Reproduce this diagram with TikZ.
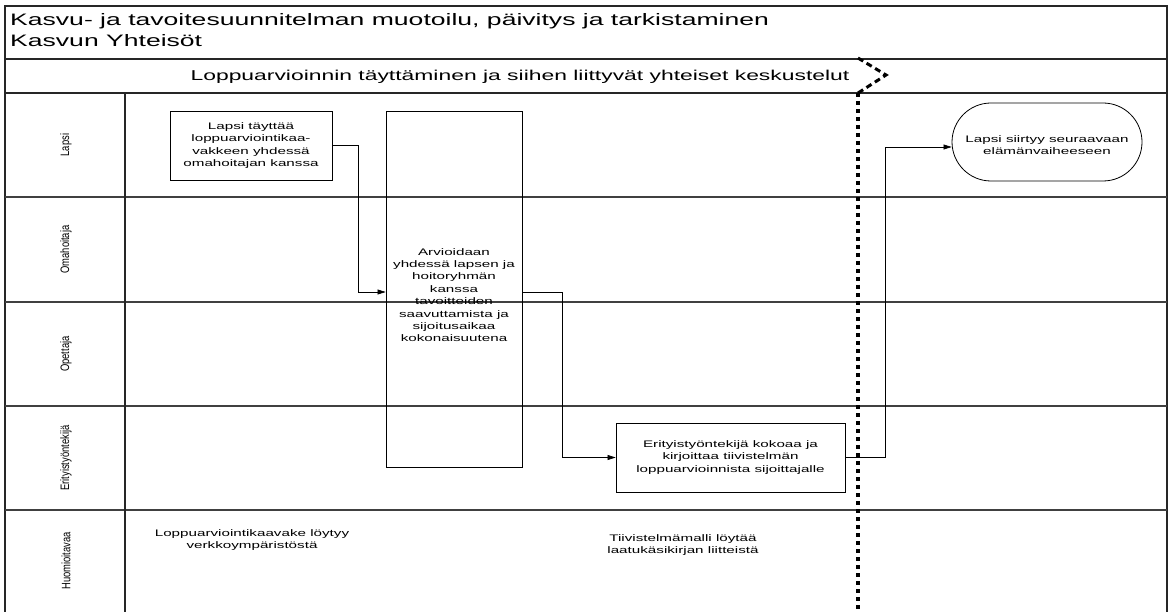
\documentclass[tikz,border=0pt]{standalone}
\usepackage{fontspec}
\setmainfont{Liberation Sans}
\newfontfamily\wide[FakeStretch=1.6]{Liberation Sans}
\usetikzlibrary{arrows.meta}
\begin{document}
\begin{tikzpicture}[x=1pt,y=-1pt,
  frame/.style={line width=1.4pt, black!85},
  lane/.style={line width=1.2pt, black!75},
  box/.style={draw, line width=0.8pt, align=center, inner sep=0pt,
    font=\wide\fontsize{9.5}{12.4}\selectfont},
  note/.style={align=center, inner sep=0pt, font=\wide\fontsize{9.5}{12.8}\selectfont},
  conn/.style={line width=0.7pt, -{Triangle[length=8pt,width=5pt]}},
  lbl/.style={rotate=90, inner sep=0pt, font=\fontsize{9.4}{11}\selectfont},
  dots/.style={line width=3.5pt, dash pattern=on 4pt off 4pt},
  dashes/.style={line width=3pt, dash pattern=on 6pt off 4pt}
]
\useasboundingbox (0,0) rectangle (1169,612);
\fill[white] (0,0) rectangle (1169,612);

% frame and bands
\draw[frame] (5,612) -- (5,6) -- (1167,6) -- (1167,612);
\draw[frame] (5,59) -- (1167,59);
\draw[frame] (5,93) -- (1167,93);
\foreach \yy in {197,302,406,510} \draw[lane] (5,\yy) -- (1167,\yy);
\draw[frame] (125,93) -- (125,612);

% titles
\node[anchor=base west, inner sep=0pt, font=\wide\fontsize{16.6}{18}\selectfont] (t1) at (10,26) {Kasvu- ja tavoitesuunnitelman muotoilu, päivitys ja tarkistaminen};
\node[anchor=base west, inner sep=0pt, font=\wide\fontsize{16.6}{18}\selectfont] (t2) at (10,47) {Kasvun Yhteisöt};
\node[inner sep=0pt, font=\wide\fontsize{14.3}{16}\selectfont] (hdr) at (520,77) {Loppuarvioinnin täyttäminen ja siihen liittyvät yhteiset keskustelut};

% lane labels
\node[lbl] (l1) at (66,145) {\scalebox{1}[1.3]{Lapsi}};
\node[lbl] (l2) at (66,249.5) {\scalebox{1}[1.3]{Omahoitaja}};
\node[lbl] (l3) at (66,354) {\scalebox{1}[1.3]{Opettaja}};
\node[lbl] (l4) at (66,458) {\scalebox{1}[1.3]{Erityistyöntekijä}};
\node[lbl] (l5) at (66,561) {\scalebox{1}[1.3]{Huomioitavaa}};

% boxes
\node[box, minimum width=162pt, minimum height=69pt] (b1) at (251,145.5)
  {Lapsi täyttää\\loppuarviointikaa-\\vakkeen yhdessä\\omahoitajan kanssa};
\node[box, minimum width=136pt, minimum height=356pt] (big) at (454,289)
  {\raisebox{-7pt}[\height][\depth]{\begin{tabular}{@{}c@{}}Arvioidaan\\yhdessä lapsen ja\\hoitoryhmän\\kanssa\\tavoitteiden\\saavuttamista ja\\sijoitusaikaa\\kokonaisuutena\end{tabular}}};
\node[box, minimum width=229pt, minimum height=69pt] (b3) at (730.5,457.5)
  {Erityistyöntekijä kokoaa ja\\kirjoittaa tiivistelmän\\loppuarvioinnista sijoittajalle};
\node[box, minimum width=190pt, minimum height=78pt, rounded corners=39pt] (ell) at (1047,142)
  {\raisebox{-4pt}[\height][\depth]{\begin{tabular}{@{}c@{}}Lapsi siirtyy seuraavaan\\elämänvaiheeseen\end{tabular}}};

% notes
\node[note] (n1) at (252,540) {Loppuarviointikaavake löytyy\\verkkoympäristöstä};
\node[note] (n2) at (683,545) {Tiivistelmämalli löytää\\laatukäsikirjan liitteistä};

% connectors
\draw[conn] (b1.east) -- ++(26,0) |- ([yshift=-3pt]big.west);
\draw[conn] ([yshift=-3pt]big.east) -- ++(40,0) |- (b3.west);
\draw[conn] (b3.east) -- ++(40,0) |- ([yshift=-5pt]ell.west);

% phase separator
\coordinate (c1) at (858,58);
\coordinate (c2) at (886,75);
\coordinate (c3) at (858,93);
\coordinate (c4) at (858,612);
\draw[dashes] (c1) -- (c2) -- (c3);
\draw[dots] (c3) -- (c4);
\end{tikzpicture}
\end{document}
